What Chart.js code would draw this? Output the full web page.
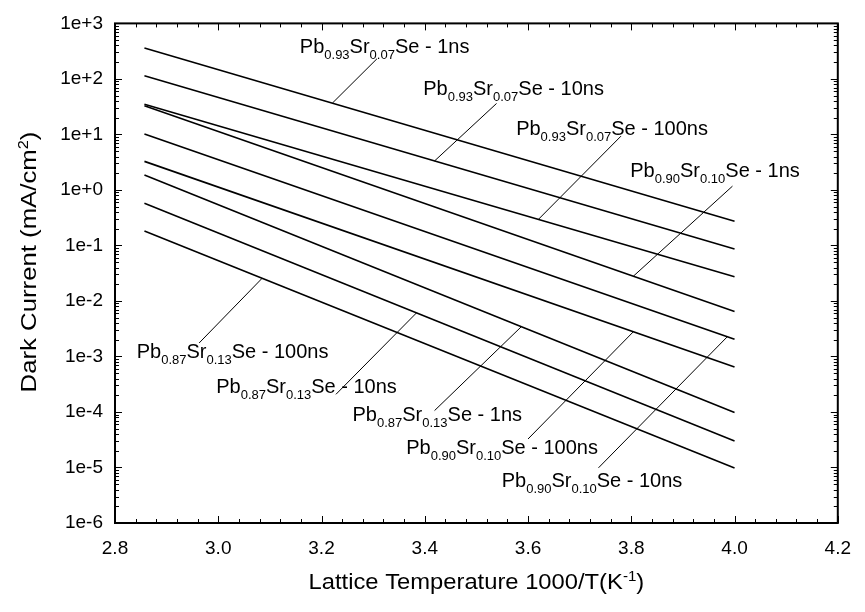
<!DOCTYPE html>
<html>
<head>
<meta charset="utf-8">
<script src="https://cdn.jsdelivr.net/npm/chart.js@4"></script>
<style>
  body { margin: 0; background: #fff; }
  #wrap { width: 865px; height: 612px; }
</style>
</head>
<body>
<div id="wrap"><canvas id="darkCurrent" width="865" height="612"></canvas></div>
<script>
// 1000/T at 350 K and 250 K
const invTemp = [2.857, 4.0];

// dark current (mA/cm^2) at both ends of each line
const pb093_1ns = [361, 0.273];
const pb093_10ns = [114, 0.0863];
const pb093_100ns = [35.0, 0.0272];
const pb090_1ns = [32.8, 0.00646];
const pb090_10ns = [10.2, 0.00204];
const pb090_100ns = [3.27, 6.46e-4];
const pb087_1ns = [1.85, 9.8e-5];
const pb087_10ns = [0.575, 3.0e-5];
const pb087_100ns = [0.182, 9.8e-6];

// composition (Pb, Sr) and lifetime for each series
const pbFraction = ["0.93", "0.93", "0.93", "0.90", "0.90", "0.90", "0.87", "0.87", "0.87"];
const srFraction = ["0.07", "0.07", "0.07", "0.10", "0.10", "0.10", "0.13", "0.13", "0.13"];
const lifetimes = ["1ns", "10ns", "100ns", "1ns", "10ns", "100ns", "1ns", "10ns", "100ns"];
const seriesValues = [pb093_1ns, pb093_10ns, pb093_100ns, pb090_1ns, pb090_10ns, pb090_100ns,
                      pb087_1ns, pb087_10ns, pb087_100ns];

// axis ticks
const xTickValues = [2.8, 3.0, 3.2, 3.4, 3.6, 3.8, 4.0, 4.2];
const yTickExponents = [-6, -5, -4, -3, -2, -1, 0, 1, 2, 3];

// where each label sits: text origin, leader tip, and the x where the leader meets its line
const labelPlacement = [
    { tx: 3.158, ty: 295, lx: 3.3075, ly: 231, ax: 3.221 },
    { tx: 3.397, ty: 50.6, lx: 3.539, ly: 36.1, ax: 3.419 },
    { tx: 3.577, ty: 9.94, lx: 3.780, ly: 9.31, ax: 3.620 },
    { tx: 3.798, ty: 1.71, lx: 3.996, ly: 1.17, ax: 3.804 },
    { tx: 3.549, ty: 4.37e-6, lx: 3.7365, ly: 9.86e-6, ax: 3.986 },
    { tx: 3.364, ty: 1.74e-5, lx: 3.600, ly: 3.26e-5, ax: 3.804 },
    { tx: 3.260, ty: 6.77e-5, lx: 3.419, ly: 1.06e-4, ax: 3.587 },
    { tx: 2.996, ty: 2.17e-4, lx: 3.228, ly: 2.08e-4, ax: 3.384 },
    { tx: 2.842, ty: 9.25e-4, lx: 2.963, ly: 1.75e-3, ax: 3.085 }
];

const FONT = '"Liberation Sans", Arial, sans-serif';

function expLabel(v) {
    const e = Math.round(Math.log10(v));
    return "1e" + (e >= 0 ? "+" : "-") + Math.abs(e);
}

// current on a line at a given 1000/T (straight in log space)
function valueAt(vals, xv) {
    const t = (xv - invTemp[0]) / (invTemp[1] - invTemp[0]);
    return Math.pow(10, Math.log10(vals[0]) + t * (Math.log10(vals[1]) - Math.log10(vals[0])));
}

// text with sub/superscripts, parts = [[text, kind]]
function drawRich(ctx, parts, x, y, size, smallSize) {
    let cx = x;
    for (const [t, kind] of parts) {
        ctx.font = (kind ? smallSize : size) + "px " + FONT;
        const dy = kind === "sub" ? 6 : kind === "sup" ? -8 : 0;
        ctx.fillText(t, cx, y + dy);
        cx += ctx.measureText(t).width;
    }
    return cx - x;
}

function richWidth(ctx, parts, size, smallSize) {
    let w = 0;
    for (const [t, kind] of parts) {
        ctx.font = (kind ? smallSize : size) + "px " + FONT;
        w += ctx.measureText(t).width;
    }
    return w;
}

// frame and inward ticks on all four sides
const frameTicks = {
    id: "frameTicks",
    afterDatasetsDraw(chart) {
        const { ctx, chartArea: a, scales: { x, y } } = chart;
        ctx.save();
        ctx.strokeStyle = "#000";
        ctx.lineWidth = 1;
        ctx.beginPath();
        for (let i = 0; i <= 35; i++) {
            const v = 2.8 + i * 0.04;
            const px = Math.round(x.getPixelForValue(v)) + 0.5;
            const len = i % 5 === 0 ? 7 : 4;
            ctx.moveTo(px, a.bottom); ctx.lineTo(px, a.bottom - len);
            ctx.moveTo(px, a.top); ctx.lineTo(px, a.top + len);
        }
        for (let e = -6; e <= 2; e++) {
            for (let m = 1; m <= 9; m++) {
                const py = Math.round(y.getPixelForValue(m * Math.pow(10, e))) + 0.5;
                const len = m === 1 ? 7 : 4;
                ctx.moveTo(a.left, py); ctx.lineTo(a.left + len, py);
                ctx.moveTo(a.right, py); ctx.lineTo(a.right - len, py);
            }
        }
        ctx.stroke();
        ctx.lineWidth = 2;
        ctx.strokeRect(a.left, a.top, a.right - a.left, a.bottom - a.top);
        ctx.restore();
    }
};

// series labels with leader lines, plus the axis titles
const seriesLabels = {
    id: "seriesLabels",
    afterDraw(chart) {
        const { ctx, chartArea: a, scales: { x, y } } = chart;
        ctx.save();
        ctx.fillStyle = "#000";
        ctx.strokeStyle = "#000";
        ctx.lineWidth = 1;
        ctx.textBaseline = "alphabetic";
        labelPlacement.forEach((p, i) => {
            const vals = seriesValues[i];
            ctx.beginPath();
            ctx.moveTo(x.getPixelForValue(p.lx), y.getPixelForValue(p.ly));
            ctx.lineTo(x.getPixelForValue(p.ax), y.getPixelForValue(valueAt(vals, p.ax)));
            ctx.stroke();
            const parts = [["Pb", null], [pbFraction[i], "sub"], ["Sr", null], [srFraction[i], "sub"],
                           ["Se - " + lifetimes[i], null]];
            drawRich(ctx, parts, x.getPixelForValue(p.tx), y.getPixelForValue(p.ty), 20, 13);
        });

        // x title, a little wide
        const xParts = [["Lattice Temperature 1000/T(K", null], ["-1", "sup"], [")", null]];
        const xw = richWidth(ctx, xParts, 22, 14);
        ctx.save();
        ctx.translate((a.left + a.right) / 2, 589);
        ctx.scale(1.08, 1);
        drawRich(ctx, xParts, -xw / 2, 0, 22, 14);
        ctx.restore();

        // y title, rotated
        const yParts = [["Dark Current (mA/cm", null], ["2", "sup"], [")", null]];
        const yw = richWidth(ctx, yParts, 22, 14);
        ctx.translate(36, 262);
        ctx.rotate(-Math.PI / 2);
        ctx.scale(1.17, 1);
        drawRich(ctx, yParts, -yw / 2, 0, 22, 14);
        ctx.restore();
    }
};

const datasets = seriesValues.map((vals, i) => ({
    label: "Pb" + pbFraction[i] + "Sr" + srFraction[i] + "Se - " + lifetimes[i],
    data: vals.map((v, k) => ({ x: invTemp[k], y: v })),
    borderColor: "#000",
    borderWidth: 1.6,
    pointRadius: 0,
    tension: 0,
    fill: false
}));

new Chart(document.getElementById("darkCurrent"), {
    type: "line",
    data: { datasets },
    options: {
        responsive: false,
        animation: false,
        events: [],
        layout: { padding: { top: 13, right: 19, left: 0, bottom: 0 } },
        plugins: { legend: { display: false }, tooltip: { enabled: false } },
        scales: {
            x: {
                type: "linear",
                min: 2.8,
                max: 4.2,
                grid: { display: false, drawTicks: false },
                border: { display: false },
                afterFit: s => { s.height = 89; },
                afterBuildTicks: s => { s.ticks = xTickValues.map(v => ({ value: v })); },
                ticks: {
                    padding: 14,
                    color: "#000",
                    font: { family: FONT, size: 19 },
                    maxRotation: 0,
                    callback: v => Number(v).toFixed(1)
                }
            },
            y: {
                type: "logarithmic",
                min: 1e-6,
                max: 1e3,
                grid: { display: false, drawTicks: false },
                border: { display: false },
                afterFit: s => { s.width = 115; },
                afterBuildTicks: s => { s.ticks = yTickExponents.map(e => ({ value: Math.pow(10, e) })); },
                ticks: {
                    padding: 12,
                    color: "#000",
                    font: { family: FONT, size: 19 },
                    callback: v => expLabel(v)
                }
            }
        }
    },
    plugins: [frameTicks, seriesLabels]
});
</script>
</body>
</html>
